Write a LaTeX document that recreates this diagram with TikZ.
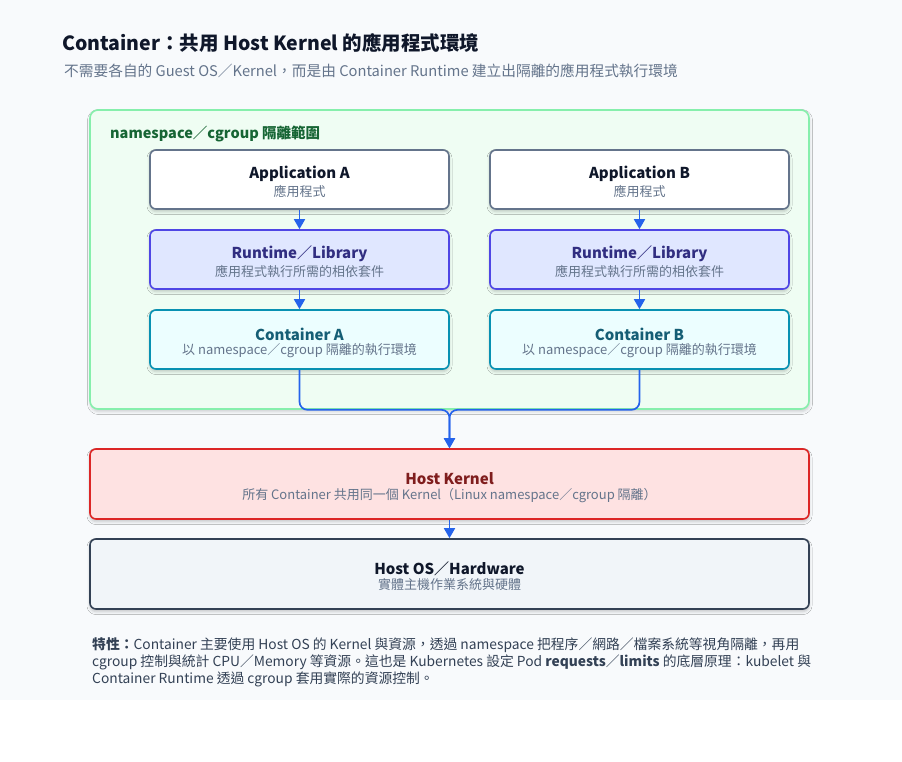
\documentclass[tikz,border=0pt]{standalone}
\usepackage{fontspec}
\setmainfont{Noto Sans CJK TC}
\usetikzlibrary{arrows.meta,shadows.blur}
\definecolor{bg}{HTML}{F8FAFC}
\definecolor{grnfill}{HTML}{EFFDF3}
\definecolor{grnline}{HTML}{86EFAC}
\definecolor{grntext}{HTML}{166534}
\definecolor{slateline}{HTML}{64748B}
\definecolor{subtext}{HTML}{64748B}
\definecolor{darktext}{HTML}{0F172A}
\definecolor{indline}{HTML}{4F46E5}
\definecolor{indfill}{HTML}{E0E7FF}
\definecolor{indtext}{HTML}{312E81}
\definecolor{cyline}{HTML}{0891B2}
\definecolor{cyfill}{HTML}{ECFEFF}
\definecolor{cytext}{HTML}{155E75}
\definecolor{redline}{HTML}{DC2626}
\definecolor{redfill}{HTML}{FEE2E2}
\definecolor{redtext}{HTML}{7F1D1D}
\definecolor{osline}{HTML}{334155}
\definecolor{osfill}{HTML}{F1F5F9}
\definecolor{arrowblue}{HTML}{2563EB}
\definecolor{notetext}{HTML}{334155}
\newcommand{\boxtxt}[3]{{\fontsize{15}{18}\selectfont\bfseries\color{#1}\rule{0pt}{20pt}#2}\\[2.5pt]{\fontsize{13}{16}\selectfont\color{subtext}#3\rule[-4pt]{0pt}{4pt}}}
\begin{document}
\begin{tikzpicture}[x=1pt,y=-1pt,
  card/.style={rounded corners=6pt, line width=1.6pt, align=center, inner sep=0pt,
    minimum height=59pt, minimum width=299pt,
    blur shadow={shadow xshift=0pt, shadow yshift=-2.5pt, shadow blur radius=3pt, shadow opacity=22}},
  appbox/.style={card, draw=slateline, fill=white},
  rtbox/.style={card, draw=indline, fill=indfill},
  ctbox/.style={card, draw=cyline, fill=cyfill},
  widebox/.style={card, minimum width=719pt, minimum height=70pt},
  conn/.style={draw=arrowblue, line width=1.7pt, -{Triangle[length=10pt,width=11pt]}, rounded corners=8pt}]
\useasboundingbox (0,0) rectangle (902,762);
\fill[white] (0,0) rectangle (902,762);
\fill[bg] (0,0) rectangle (902,700);

\node[anchor=west, inner sep=0pt, font=\fontsize{19.5}{22}\selectfont\bfseries, text=darktext] (title) at (62,43) {Container：共用 Host Kernel 的應用程式環境};
\node[anchor=west, inner sep=0pt, font=\fontsize{14.7}{18}\selectfont, text=subtext] (subtitle) at (64,71) {不需要各自的 Guest OS／Kernel，而是由 Container Runtime 建立出隔離的應用程式執行環境};

\node[draw=grnline, fill=grnfill, line width=1.6pt, rounded corners=8pt, minimum width=719pt, minimum height=299pt, inner sep=0pt,
  blur shadow={shadow xshift=0.5pt, shadow yshift=-2.5pt, shadow blur radius=3pt, shadow opacity=18}] (ns) at (449.5,259.5) {};
\node[anchor=west, inner sep=0pt, font=\fontsize{14.5}{18}\selectfont\bfseries, text=grntext] (nslabel) at (110,134) {namespace／cgroup 隔離範圍};

\node[appbox] (appa) at (299.5,179.5) {\boxtxt{darktext}{Application A}{應用程式}};
\node[appbox] (appb) at (639.5,179.5) {\boxtxt{darktext}{Application B}{應用程式}};
\node[rtbox] (rta) at (299.5,259.5) {\boxtxt{indtext}{Runtime／Library}{應用程式執行所需的相依套件}};
\node[rtbox] (rtb) at (639.5,259.5) {\boxtxt{indtext}{Runtime／Library}{應用程式執行所需的相依套件}};
\node[ctbox] (cta) at (299.5,339.5) {\boxtxt{cytext}{Container A}{以 namespace／cgroup 隔離的執行環境}};
\node[ctbox] (ctb) at (639.5,339.5) {\boxtxt{cytext}{Container B}{以 namespace／cgroup 隔離的執行環境}};

\node[widebox, draw=redline, fill=redfill] (hk) at (449.5,484) {\boxtxt{redtext}{Host Kernel}{所有 Container 共用同一個 Kernel（Linux namespace／cgroup 隔離）}};
\node[widebox, draw=osline, fill=osfill] (os) at (449.5,574) {\boxtxt{darktext}{Host OS／Hardware}{實體主機作業系統與硬體}};

\draw[conn] (appa) -- (rta);
\draw[conn] (rta) -- (cta);
\draw[conn] (appb) -- (rtb);
\draw[conn] (rtb) -- (ctb);
\draw[conn] (cta.south) -- ++(0,40) -| (hk.north);
\draw[conn] (ctb.south) -- ++(0,40) -| (hk.north);
\draw[conn] (hk) -- (os);

\node[anchor=north west, inner sep=0pt, align=left, text=notetext, font=\fontsize{13.8}{17}\selectfont] (note) at (92,637)
{{\bfseries\color{osline}特性：}Container 主要使用 Host OS 的 Kernel 與資源，透過 namespace 把程序／網路／檔案系統等視角隔離，再用\\
cgroup 控制與統計 CPU／Memory 等資源。這也是 Kubernetes 設定 Pod {\bfseries requests}／{\bfseries limits} 的底層原理：kubelet 與\\
Container Runtime 透過 cgroup 套用實際的資源控制。};
\end{tikzpicture}
\end{document}
